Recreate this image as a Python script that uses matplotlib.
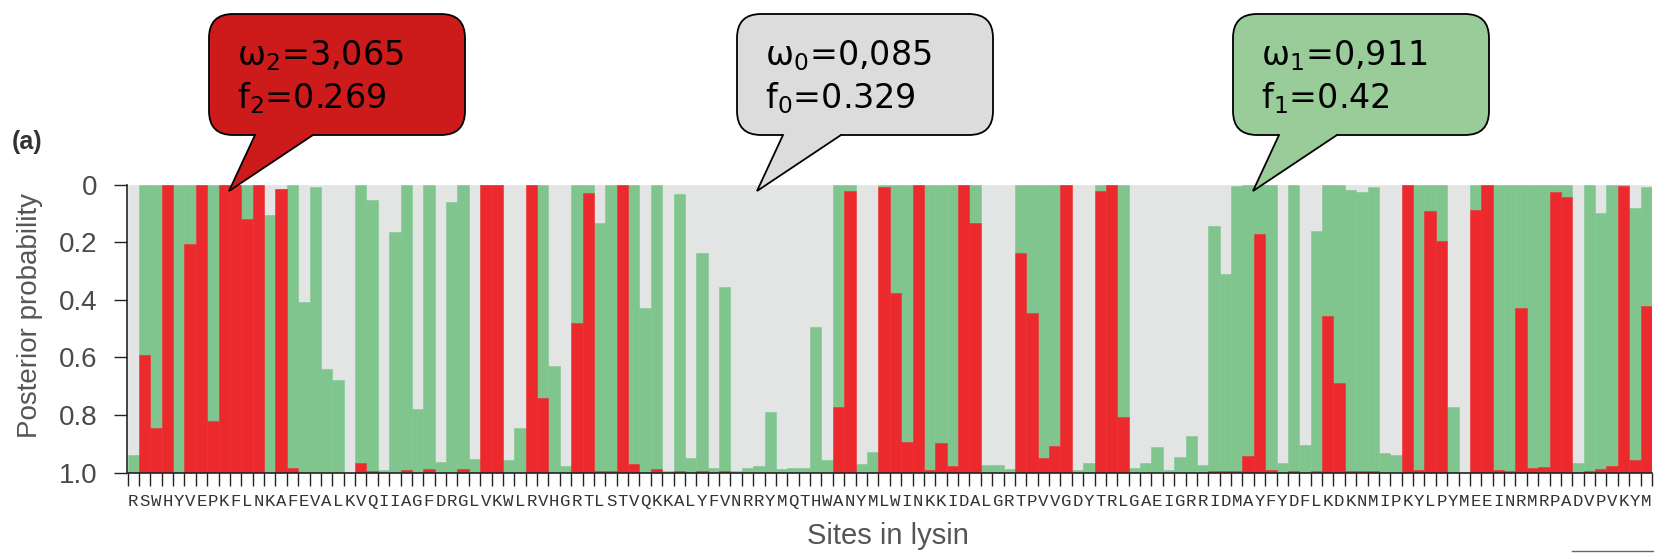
import matplotlib
matplotlib.use("Agg")
import matplotlib.pyplot as plt
import numpy as np
from matplotlib.patches import FancyBboxPatch, Polygon
from matplotlib.lines import Line2D

# ---------------- data ----------------
residues = list("RSWHYVEPKFLNKAFEVALKVQIIAGFDRGLVKWLRVHGRTLSTVQKKAL"
                "YFVNRRYMQTHWANYMLWINKKIDALGRTPVVGDYTRLGAEIGRRIDMAY"
                "FYDFLKDKNMIPKYLPYMEEINRMRPADVPVKYM")

# posterior probability of the positively selected class (omega2, red)
p_omega2 = [0, 0.41, 0.155, 1.0, 0, 0.795, 1.0, 0.18, 1.0, 1.0,
            0.88, 1.0, 0, 0.985, 0.017, 0, 0, 0, 0, 0,
            0.035, 0.005, 0, 0, 0.01, 0, 0.012, 0, 0, 0.012,
            0, 1.0, 1.0, 0, 0, 1.0, 0.258, 0, 0, 0.518,
            0.97, 0.006, 0.006, 1.0, 0.03, 0, 0.012, 0, 0.006, 0,
            0.006, 0, 0.006, 0, 0, 0, 0, 0, 0, 0,
            0, 0, 0.229, 0.978, 0, 0, 0.99, 0.622, 0.107, 1.0,
            0.01, 0.104, 0.023, 1.0, 0.868, 0, 0, 0, 0.763, 0.555,
            0.05, 0.092, 1.0, 0, 0, 0.978, 1.0, 0.194, 0, 0,
            0, 0, 0, 0, 0, 0.005, 0.005, 0.006, 0.058, 0.828,
            0.01, 0, 0.006, 0, 0.006, 0.543, 0.31, 0.006, 0.006, 0.006,
            0, 0, 1.0, 0.01, 0.908, 0.805, 0, 0, 0.913, 1.0,
            0.01, 0.005, 0.57, 0.017, 0.02, 0.975, 0.957, 0, 0.006, 0.012,
            0.023, 0.995, 0.044, 0.58]

# posterior probability of the neutral class (omega1, green)
p_omega1 = [0.06, 0.59, 0.845, 0, 1.0, 0.205, 0, 0.82, 0, 0,
            0.12, 0, 0.894, 0, 0.983, 0.593, 0.99, 0.36, 0.32, 0,
            0.965, 0.94, 0.01, 0.836, 0.99, 0.22, 0.988, 0.037, 0.94, 0.988,
            0.046, 0, 0, 0.044, 0.154, 0, 0.742, 0.37, 0.023, 0.482,
            0.03, 0.862, 0.994, 0, 0.97, 0.57, 0.988, 0.005, 0.96, 0.05,
            0.757, 0.015, 0.64, 0.006, 0.015, 0.023, 0.21, 0.012, 0.017, 0.017,
            0.506, 0.044, 0.771, 0.022, 0.03, 0.073, 0.01, 0.378, 0.893, 0,
            0.99, 0.896, 0.977, 0, 0.132, 0.027, 0.027, 0.012, 0.237, 0.445,
            0.95, 0.908, 0, 0.01, 0.032, 0.022, 0, 0.806, 0.017, 0.035,
            0.09, 0.01, 0.055, 0.128, 0.027, 0.85, 0.684, 0.99, 0.942, 0.172,
            0.99, 0.032, 0.994, 0.096, 0.832, 0.457, 0.69, 0.974, 0.968, 0.984,
            0.069, 0.061, 0, 0.99, 0.092, 0.195, 0.227, 0, 0.087, 0,
            0.99, 0.995, 0.43, 0.983, 0.98, 0.025, 0.043, 0.035, 0.994, 0.888,
            0.977, 0.005, 0.876, 0.41]

ytick_values = [0, 0.2, 0.4, 0.6, 0.8, 1.0]
ytick_labels = ["0", "0.2", "0.4", "0.6", "0.8", "1.0"]

callout_omega = [r"ω$_\mathregular{2}$=3,065", r"ω$_\mathregular{0}$=0,085", r"ω$_\mathregular{1}$=0,911"]
callout_f = [r"f$_\mathregular{2}$=0.269", r"f$_\mathregular{0}$=0.329", r"f$_\mathregular{1}$=0.42"]

# ---------------- style ----------------
RED = "#EC292C"
GREEN = "#80C58E"
GREY = "#E3E5E5"
BUBBLE_COLORS = ["#CD1A1A", "#DCDCDC", "#99CC99"]
W, H = 1654, 554

plt.rcParams["font.family"] = ["Liberation Sans", "DejaVu Sans"]

fig = plt.figure(figsize=(W / 100, H / 100), dpi=100)
ax_left, ax_right, ax_top, ax_bottom = 127.5, 1652.0, 184.5, 472.7
ax = fig.add_axes([ax_left / W, 1 - ax_bottom / H, (ax_right - ax_left) / W,
                   (ax_bottom - ax_top) / H])

n = len(residues)
x = np.arange(n)
p2 = np.array(p_omega2)
p1 = np.array(p_omega1)
p0 = np.clip(1 - p1 - p2, 0, 1)

kw = dict(width=1.0, linewidth=0.4)
ax.bar(x, p0, bottom=0, color=GREY, edgecolor=GREY, **kw)
ax.bar(x, p1, bottom=p0, color=GREEN, edgecolor=GREEN, **kw)
ax.bar(x, p2, bottom=p0 + p1, color=RED, edgecolor=RED, **kw)

ax.set_xlim(-0.5, n - 0.5)
ax.set_ylim(1.0, 0.0)

for s in ["top", "right"]:
    ax.spines[s].set_visible(False)
for s in ["left", "bottom"]:
    ax.spines[s].set_linewidth(1.2)
    ax.spines[s].set_color("#222222")

ax.set_yticks(ytick_values, labels=ytick_labels)
ax.tick_params(axis="y", length=9.5, width=1.0, color="#222222", pad=12,
               labelsize=20, labelcolor="#4a4a4a")

ax.set_xticks(np.arange(n + 1) - 0.5, labels=[""] * (n + 1))
ax.tick_params(axis="x", which="major", length=9.5, width=1.0, color="#222222")
ax.set_xticks(x, labels=residues, minor=True)
ax.tick_params(axis="x", which="minor", length=0, pad=15.5, labelsize=12.5,
               labelcolor="#333333")
for lab in ax.get_xticklabels(minor=True):
    lab.set_family(["Liberation Mono", "DejaVu Sans Mono"])

fig.text(30 / W, 1 - 315 / H, "Posterior probability", rotation=90,
         ha="center", va="center", fontsize=20, color="#555555")
fig.text(888 / W, 1 - 536 / H, "Sites in lysin", ha="center", va="center",
         fontsize=21, color="#555555")

# ---------------- overlay (pixel coords, top-left origin) ----------------
ov = fig.add_axes([0, 0, 1, 1], zorder=10)
ov.set_xlim(0, W)
ov.set_ylim(H, 0)
ov.axis("off")

ov.text(12, 149, "(a)", fontsize=18, fontweight="bold", color="#333333",
        ha="left", va="baseline")
ov.add_line(Line2D([1572, 1654], [551, 551], color="#666666", lw=1.0))

box_left = [209, 737, 1233]
box_w, box_top, box_bot = 256, 14, 135
tip_y = 191
for i in range(3):
    bx = box_left[i]
    fc = BUBBLE_COLORS[i]
    ov.add_patch(FancyBboxPatch((bx, box_top), box_w, box_bot - box_top,
                                boxstyle="round,pad=0,rounding_size=24",
                                fc=fc, ec="black", lw=1.3, zorder=1))
    b1, b2, tx = bx + 46, bx + 104, bx + 20
    ov.add_patch(Polygon([(b1, box_bot - 3), (b1, box_bot), (tx, tip_y),
                          (b2, box_bot), (b2, box_bot - 3)],
                         closed=True, fc=fc, ec="none", zorder=2))
    ov.add_line(Line2D([b1, tx, b2], [box_bot, tip_y, box_bot], color="black",
                       lw=1.3, zorder=3, solid_joinstyle="miter"))
    ov.text(bx + 28, 65, callout_omega[i], fontsize=24, family="DejaVu Sans",
            ha="left", va="baseline", color="black", zorder=4)
    ov.text(bx + 28, 108, callout_f[i], fontsize=24, family="DejaVu Sans",
            ha="left", va="baseline", color="black", zorder=4)

fig.savefig("out.png", dpi=100)
